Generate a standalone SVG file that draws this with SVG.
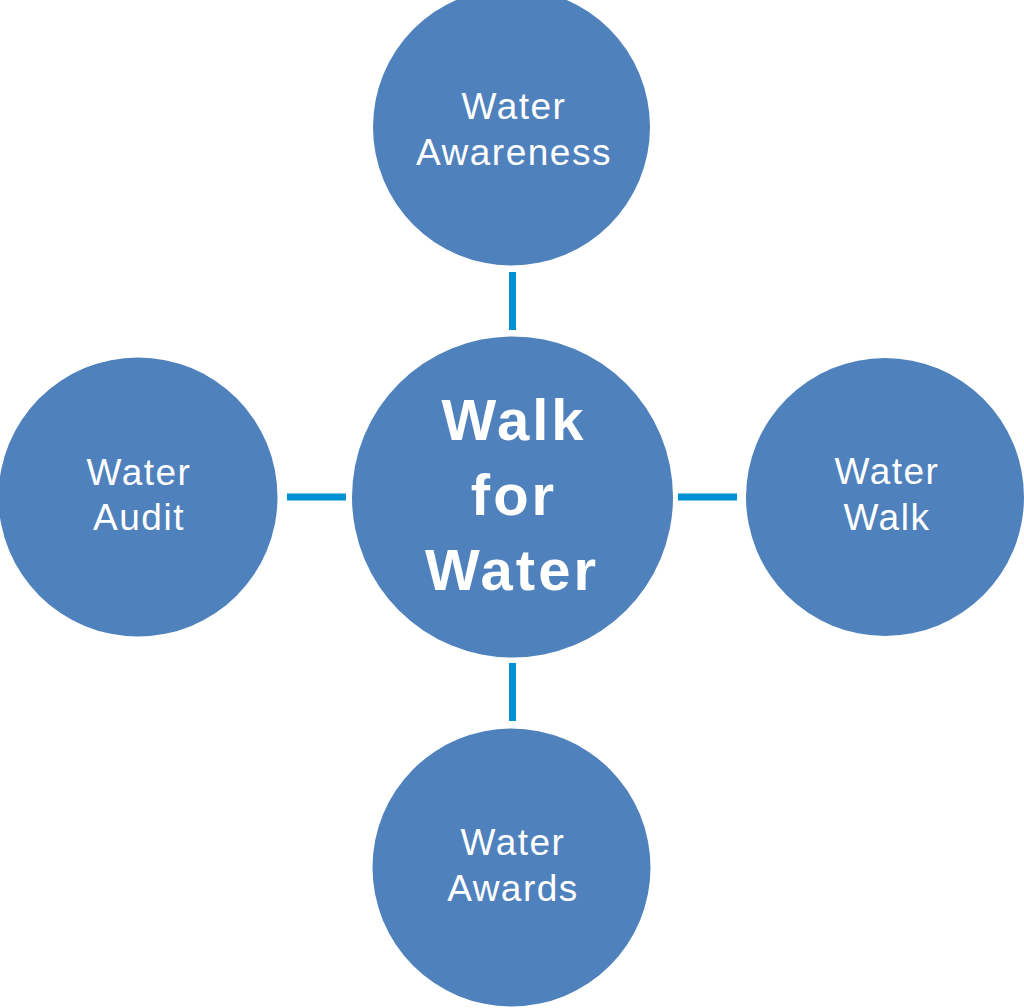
<svg xmlns="http://www.w3.org/2000/svg" width="1024" height="1008" viewBox="0 0 1024 1008">
<style>
.node{fill:#4F81BD}
.lbl{fill:#FFFFFF;font-family:"Liberation Sans",Arial,sans-serif;font-size:37px;letter-spacing:1.5px;text-anchor:middle}
.main{fill:#FFFFFF;font-family:"Liberation Sans",Arial,sans-serif;font-size:58px;font-weight:bold;letter-spacing:3px;text-anchor:middle}
.conn{stroke:#0090D4;stroke-width:7;fill:none}
</style>
<rect width="1024" height="1008" fill="#FFFFFF"/>
<g id="connectors">
<line class="conn" x1="512.5" y1="272" x2="512.5" y2="330"/>
<line class="conn" x1="512.5" y1="663" x2="512.5" y2="721"/>
<line class="conn" x1="287" y1="497" x2="346" y2="497"/>
<line class="conn" x1="678" y1="497" x2="737" y2="497"/>
</g>
<g id="center">
<circle class="node" cx="512.5" cy="497" r="160.5"/>
<text class="main" x="514" y="440">Walk</text>
<text class="main" x="514" y="515">for</text>
<text class="main" x="512" y="590">Water</text>
</g>
<g id="awareness">
<circle class="node" cx="511.5" cy="127" r="138.5"/>
<text class="lbl" x="514" y="119">Water</text>
<text class="lbl" x="514" y="165">Awareness</text>
</g>
<g id="audit">
<circle class="node" cx="138" cy="497" r="139.5"/>
<text class="lbl" x="139" y="485">Water</text>
<text class="lbl" x="139" y="530">Audit</text>
</g>
<g id="walk">
<circle class="node" cx="885" cy="497" r="139"/>
<text class="lbl" x="887" y="484">Water</text>
<text class="lbl" x="887" y="530">Walk</text>
</g>
<g id="awards">
<circle class="node" cx="511.5" cy="867.5" r="139"/>
<text class="lbl" x="513" y="855">Water</text>
<text class="lbl" x="513" y="901">Awards</text>
</g>
</svg>
